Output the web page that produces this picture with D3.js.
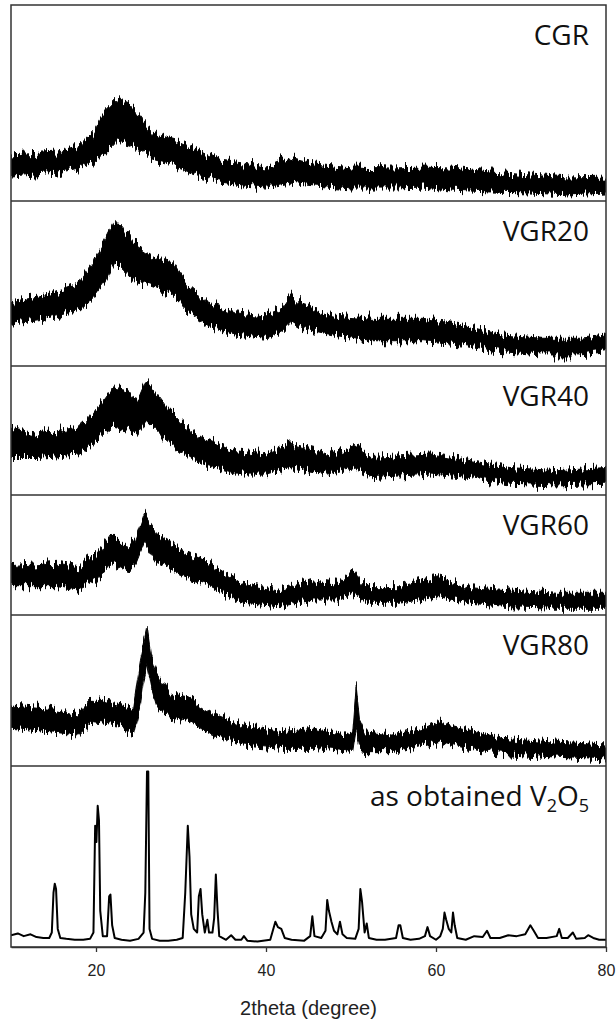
<!DOCTYPE html>
<html>
<head>
<meta charset="utf-8">
<script src="https://cdn.jsdelivr.net/npm/d3@7"></script>
<style>
  body { margin: 0; background: #fff; }
  svg { display: block; }
</style>
</head>
<body>
<svg id="chart" width="616" height="1019"></svg>
<script>
// x axis
const xDomain = [10, 80];
const xTicks = [20, 40, 60, 80];
const panelNames = ["CGR", "VGR20", "VGR40", "VGR60", "VGR80", "as obtained V2O5"];

// noisy traces, read as upper / lower edge of the black band (relative intensity, 0-100 per panel)
const cgrTheta = [10, 15.5, 17.9, 19.7, 21.1, 22.5, 23.9, 25.2, 26.6, 29.4, 32.6, 34.5, 37.3, 40, 42.8, 45.6, 50.2, 54.8, 58.5, 61.7, 66.4, 71, 75.6, 80];
const cgrUpper = [23.5, 25, 27.6, 34.7, 46.4, 52.6, 50, 42.9, 34.7, 31.1, 24.5, 20.9, 19.4, 17.3, 22.4, 19.4, 17.3, 16.8, 17.3, 16.8, 14.8, 13.3, 11.7, 12.2];
const cgrLower = [12.2, 14.3, 16.8, 19.4, 24.5, 31.1, 29.6, 26, 20.9, 17.3, 12.2, 9.7, 8.2, 7.1, 9.7, 8.2, 6.6, 6.6, 7.1, 5.6, 4.6, 4.1, 3.1, 4.1];

const vgr20Theta = [10, 14.6, 17.9, 19.7, 21.1, 22.2, 23.4, 24.8, 27.1, 29, 30.8, 33.1, 36.3, 40, 41.9, 43, 44.2, 47.9, 52.5, 58.5, 63.1, 67.8, 72.4, 77, 80];
const vgr20Upper = [39, 43, 49.1, 63.2, 77.4, 88.5, 81.4, 73.3, 65.5, 63.2, 49.1, 39, 32.9, 30.9, 35, 43, 37, 30.9, 28.9, 28.9, 24.8, 18.8, 16.8, 16.8, 18.8];
const vgr20Lower = [25.9, 28.9, 32.9, 41, 51.1, 63.2, 57.2, 51.1, 47.3, 43, 32.9, 24.8, 18.8, 16.8, 20.8, 26.8, 22.8, 18.8, 14.7, 14.7, 12.7, 8.7, 6.7, 6.7, 8.7];

const vgr40Theta = [10, 13.2, 17.9, 19.7, 22, 23.9, 24.8, 25.9, 28, 29.9, 32.6, 36.3, 40, 42.8, 47.2, 50.4, 52.5, 59.4, 64.1, 68.7, 74.2, 80];
const vgr40Upper = [52.6, 47.4, 52.6, 63, 83.8, 81.3, 72, 89.1, 70.9, 57.8, 44.8, 34.4, 31.8, 39.6, 31.8, 38.3, 29.1, 31.8, 26.6, 21.3, 18.8, 21.3];
const vgr40Lower = [29.1, 29.1, 31.8, 39.6, 52.6, 50, 45, 57.8, 44.8, 34.4, 24, 16.2, 16.2, 21.3, 16.2, 21.3, 13.5, 16.2, 13.5, 8.4, 7, 8.4];

const vgr60Theta = [10, 15.5, 17.9, 20.2, 21.8, 23.4, 24.6, 25.7, 27.1, 29.9, 33.6, 37.3, 41.5, 45.6, 48.4, 50.2, 52.1, 55.7, 60.3, 64.1, 68.7, 74.2, 80];
const vgr60Upper = [40.3, 43.1, 40.3, 51.4, 68.1, 56.9, 62.5, 84.8, 68.1, 54.2, 43.1, 26.4, 20.8, 29.2, 26.4, 36.1, 23.6, 23.6, 31.9, 23.6, 20.8, 18.1, 18.1];
const vgr60Lower = [23.6, 23.6, 20.8, 29.2, 43.1, 37.5, 40.3, 59.8, 43.1, 34.8, 23.6, 9.8, 6.9, 12.5, 12.5, 18.1, 9.8, 9.8, 15.3, 9.8, 6.9, 5.6, 5.6];

const vgr80Theta = [10, 14.6, 17.9, 19.7, 22.5, 24.4, 25.2, 25.6, 26, 26.5, 27.1, 29, 31.1, 33.6, 37.3, 41.9, 45.6, 49.3, 50.2, 50.6, 51, 51.6, 54.8, 58.5, 60.3, 63.1, 67.8, 73.3, 80];
const vgr80Upper = [40.4, 38.2, 33.8, 44.8, 40.4, 38.2, 69.1, 80, 92, 72, 62.5, 47, 44.8, 36, 27.2, 22.7, 25, 20.5, 22, 52, 30, 22.7, 20.5, 25, 29.3, 25, 18.3, 16.1, 13.9];
const vgr80Lower = [25, 22.7, 20.5, 29.3, 27.2, 20.5, 40.4, 58, 68, 52, 40.4, 31.6, 29.3, 20.5, 13.9, 11.7, 11.7, 9.5, 9, 24, 14, 9.5, 9.5, 13.9, 16.1, 11.7, 8.4, 6.2, 4];

// crystalline V2O5, a thin line through read points
const v2o5Theta = [10, 10.8, 11.5, 12.3, 13, 13.8, 14.5, 14.8, 15, 15.15, 15.3, 15.5, 15.8, 16.5, 17.5, 18.5, 19.3, 19.7,
  19.9, 20.05, 20.2, 20.35, 20.5, 20.8, 21.3, 21.55, 21.7, 21.9, 22.2, 23, 24, 25, 25.6, 25.8, 26, 26.15, 26.3, 26.6,
  27.5, 28.5, 29.5, 30.2, 30.5, 30.8, 31, 31.2, 31.5, 31.9, 32.1, 32.3, 32.5, 32.8, 33.1, 33.3, 33.7, 33.9, 34.1, 34.3, 34.5,
  35.3, 35.9, 36.4, 37.1, 37.4, 37.8, 39, 40.5, 41.1, 41.4, 41.8, 42.2, 43, 44.5, 45.2, 45.45, 45.7, 46.5, 47, 47.2, 47.4,
  47.7, 48, 48.4, 48.7, 49, 49.5, 50.5, 50.9, 51.1, 51.3, 51.6, 51.85, 52.1, 53, 54, 55.3, 55.6, 55.8, 56.1, 57, 58, 58.7,
  59, 59.3, 60, 60.5, 60.8, 61, 61.2, 61.5, 61.8, 62, 62.2, 62.5, 63.5, 64.5, 65.5, 66, 66.4, 67.5, 68.5, 69.5, 70.5, 71.1,
  71.5, 72, 73, 74.2, 74.5, 74.8, 75.5, 76.1, 76.5, 77.5, 77.9, 78.5, 79.2, 80];
const v2o5Intensity = [6.5, 7.5, 6, 7, 5.5, 5, 5, 8, 30, 35, 32, 10, 5, 4.5, 4, 4, 4.5, 8,
  67, 58, 78, 70, 20, 6, 6, 28, 29, 12, 5, 4, 3.5, 4.5, 8, 30, 97, 97, 10, 4.5,
  3.5, 3.5, 4, 5, 30, 67, 50, 18, 10, 8, 28, 32, 18, 8, 15, 8, 8, 16, 40, 20, 6,
  4, 6.5, 4, 4, 6, 3.5, 3, 4, 14, 11, 10, 5, 4, 3.5, 6, 17, 6, 5, 9, 26, 20,
  14, 9, 7, 14, 7, 5, 4.5, 10, 32, 25, 8, 13, 5, 4, 4, 5, 12, 12, 5, 4, 4.5, 6,
  11, 6, 4, 6, 10, 19, 15, 10, 8, 19, 12, 5, 4, 6, 5.5, 9, 5, 5, 6.5, 6, 7, 12,
  9, 5, 5, 6, 10, 5, 5, 8, 4.5, 5, 6.5, 5, 4, 4];

const noisySeries = [
  { theta: cgrTheta, upper: cgrUpper, lower: cgrLower },
  { theta: vgr20Theta, upper: vgr20Upper, lower: vgr20Lower },
  { theta: vgr40Theta, upper: vgr40Upper, lower: vgr40Lower },
  { theta: vgr60Theta, upper: vgr60Upper, lower: vgr60Lower },
  { theta: vgr80Theta, upper: vgr80Upper, lower: vgr80Lower }
];

// layout
const plotLeft = 11, plotRight = 606;
const panelEdges = [5, 201, 366, 495, 615, 766, 947];
const labelRight = 589;

const svg = d3.select("#chart");

const x = d3.scaleLinear().domain(xDomain).range([plotLeft, plotRight]);

const yScales = panelEdges.slice(0, -1).map((top, i) =>
  d3.scaleLinear().domain([0, 100]).range([panelEdges[i + 1], top]));

const defs = svg.append("defs");
yScales.forEach((y, i) => {
  defs.append("clipPath").attr("id", "clip" + i)
    .append("rect")
    .attr("x", plotLeft).attr("y", panelEdges[i])
    .attr("width", plotRight - plotLeft).attr("height", panelEdges[i + 1] - panelEdges[i]);
});

// rough edge texture so the band reads like a noisy detector trace (vertical jitter only)
const rough = defs.append("filter").attr("id", "rough")
  .attr("color-interpolation-filters", "sRGB")
  .attr("x", "-2%").attr("y", "-30%").attr("width", "104%").attr("height", "160%");
rough.append("feTurbulence")
  .attr("type", "fractalNoise")
  .attr("baseFrequency", "0.45 0.015")
  .attr("numOctaves", 2)
  .attr("seed", 7)
  .attr("result", "grain");
rough.append("feColorMatrix")
  .attr("in", "grain")
  .attr("type", "matrix")
  .attr("values", "1 0 0 0 0  0 0 0 0 0.5  0 0 0 0 0  0 0 0 0 1")
  .attr("result", "grainY");
rough.append("feDisplacementMap")
  .attr("in", "SourceGraphic")
  .attr("in2", "grainY")
  .attr("scale", 20)
  .attr("xChannelSelector", "G")
  .attr("yChannelSelector", "R");

/* noisy panels drawn as a filled band */
noisySeries.forEach((s, i) => {
  const y = yScales[i];
  const rows = s.theta.map((t, k) => ({ t: t, hi: s.upper[k], lo: s.lower[k] }));
  const band = d3.area()
    .x(d => x(d.t))
    .y0(d => y(d.lo))
    .y1(d => y(d.hi));
  svg.append("g")
    .attr("clip-path", "url(#clip" + i + ")")
    .append("path")
    .datum(rows)
    .attr("filter", "url(#rough)")
    .attr("d", band)
    .attr("fill", "#000")
    .attr("stroke", "#000")
    .attr("stroke-width", 1);
});

/* V2O5 line */
const yV = yScales[5];
const line = d3.line()
  .x((d, k) => x(v2o5Theta[k]))
  .y(d => yV(d));
svg.append("path")
  .datum(v2o5Intensity)
  .attr("clip-path", "url(#clip5)")
  .attr("d", line)
  .attr("fill", "none")
  .attr("stroke", "#000")
  .attr("stroke-width", 2)
  .attr("stroke-linejoin", "round");

/* frame and panel separators */
svg.append("rect")
  .attr("x", plotLeft).attr("y", panelEdges[0])
  .attr("width", plotRight - plotLeft)
  .attr("height", panelEdges[6] - panelEdges[0])
  .attr("fill", "none")
  .attr("stroke", "#333")
  .attr("stroke-width", 1.5);

svg.selectAll(".sep")
  .data(panelEdges.slice(1, -1))
  .enter().append("line")
  .attr("class", "sep")
  .attr("x1", plotLeft).attr("x2", plotRight)
  .attr("y1", d => d).attr("y2", d => d)
  .attr("stroke", "#333")
  .attr("stroke-width", 1.5);

/* panel labels */
panelNames.forEach((name, i) => {
  const t = svg.append("text")
    .attr("x", labelRight)
    .attr("y", panelEdges[i] + 40)
    .attr("text-anchor", "end")
    .style("font-family", "'Open Sans', 'Noto Sans', sans-serif")
    .style("font-size", "28px")
    .style("fill", "#111");
  if (name === "as obtained V2O5") {
    t.append("tspan").text("as obtained V");
    t.append("tspan").attr("dy", 6).style("font-size", "18px").text("2");
    t.append("tspan").attr("dy", -6).text("O");
    t.append("tspan").attr("dy", 6).style("font-size", "18px").text("5");
  } else {
    t.text(name);
  }
});

/* bottom axis */
const xAxis = d3.axisBottom(x)
  .tickValues(xTicks)
  .tickSize(5)
  .tickSizeOuter(0)
  .tickPadding(13);

const axisGroup = svg.append("g")
  .attr("transform", `translate(0, ${panelEdges[6]})`)
  .call(xAxis);
axisGroup.select(".domain").attr("stroke", "#333").attr("stroke-width", 1.5);
axisGroup.selectAll(".tick line").attr("stroke", "#333").attr("stroke-width", 1.3);
axisGroup.selectAll("text")
  .style("font-family", "'Liberation Sans', Arial, sans-serif")
  .style("font-size", "16px")
  .style("fill", "#222");

svg.append("text")
  .attr("x", (plotLeft + plotRight) / 2)
  .attr("y", 1015)
  .attr("text-anchor", "middle")
  .style("font-family", "'Liberation Sans', Arial, sans-serif")
  .style("font-size", "20px")
  .style("fill", "#222")
  .text("2theta (degree)");
</script>
</body>
</html>
